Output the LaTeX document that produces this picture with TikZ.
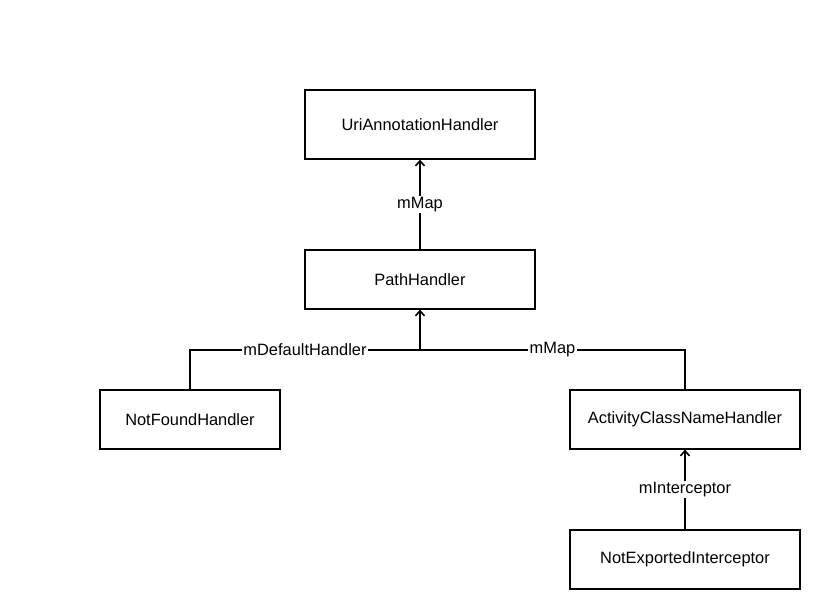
\documentclass[tikz,border=0pt]{standalone}
\usepackage{fontspec}
\setmainfont{Liberation Sans}
\usetikzlibrary{arrows.meta}
\begin{document}
\begin{tikzpicture}[x=1pt,y=-1pt,
		handler/.style={draw,line width=1.3pt,minimum height=59pt,inner sep=0pt},
		link/.style={line width=1.6pt,-{Straight Barb[length=5pt,width=9pt,line width=1.6pt]}},
		wire/.style={line width=1.6pt},
		tag/.style={fill=white,inner sep=1.5pt}]
	\tikzset{font=\fontsize{16.4}{19}\selectfont}
	%%%%%%%%%%%%%%%%%%%
	%      frame      %
	%%%%%%%%%%%%%%%%%%%
		\useasboundingbox (0,0) rectangle (820,610);
	%%%%%%%%%%%%%%%%%%%
	%    handlers     %
	%%%%%%%%%%%%%%%%%%%
		\def\wide{230pt}
		\node [handler,minimum width=\wide,minimum height=69pt] (uri) at (420,124.5) {UriAnnotationHandler};
		\node [handler,minimum width=\wide] (path) at (420,279.5) {PathHandler};
		\node [handler,minimum width=180pt] (notfound) at (190,419.5) {NotFoundHandler};
		\node [handler,minimum width=\wide] (activity) at (685,419.5) {ActivityClassNameHandler};
		\node [handler,minimum width=\wide] (interceptor) at (685,559.5) {NotExportedInterceptor};
	%%%%%%%%%%%%%%%%%%%
	%     fields      %
	%%%%%%%%%%%%%%%%%%%
		\coordinate (join) at (420,350);
		% path -> uri
			\draw [link] (path) -- node[tag] {mMap} (uri);
		% children of path
			\draw [wire] (notfound) |- node[tag,pos=0.75] {mDefaultHandler} (join);
			\draw [wire] (activity) |- node[tag,pos=0.75] {mMap} (join);
			\draw [link] (join) -- (path);
		% interceptor -> activity
			\draw [link] (interceptor) -- node[tag] {mInterceptor} (activity);
\end{tikzpicture}
\end{document}
